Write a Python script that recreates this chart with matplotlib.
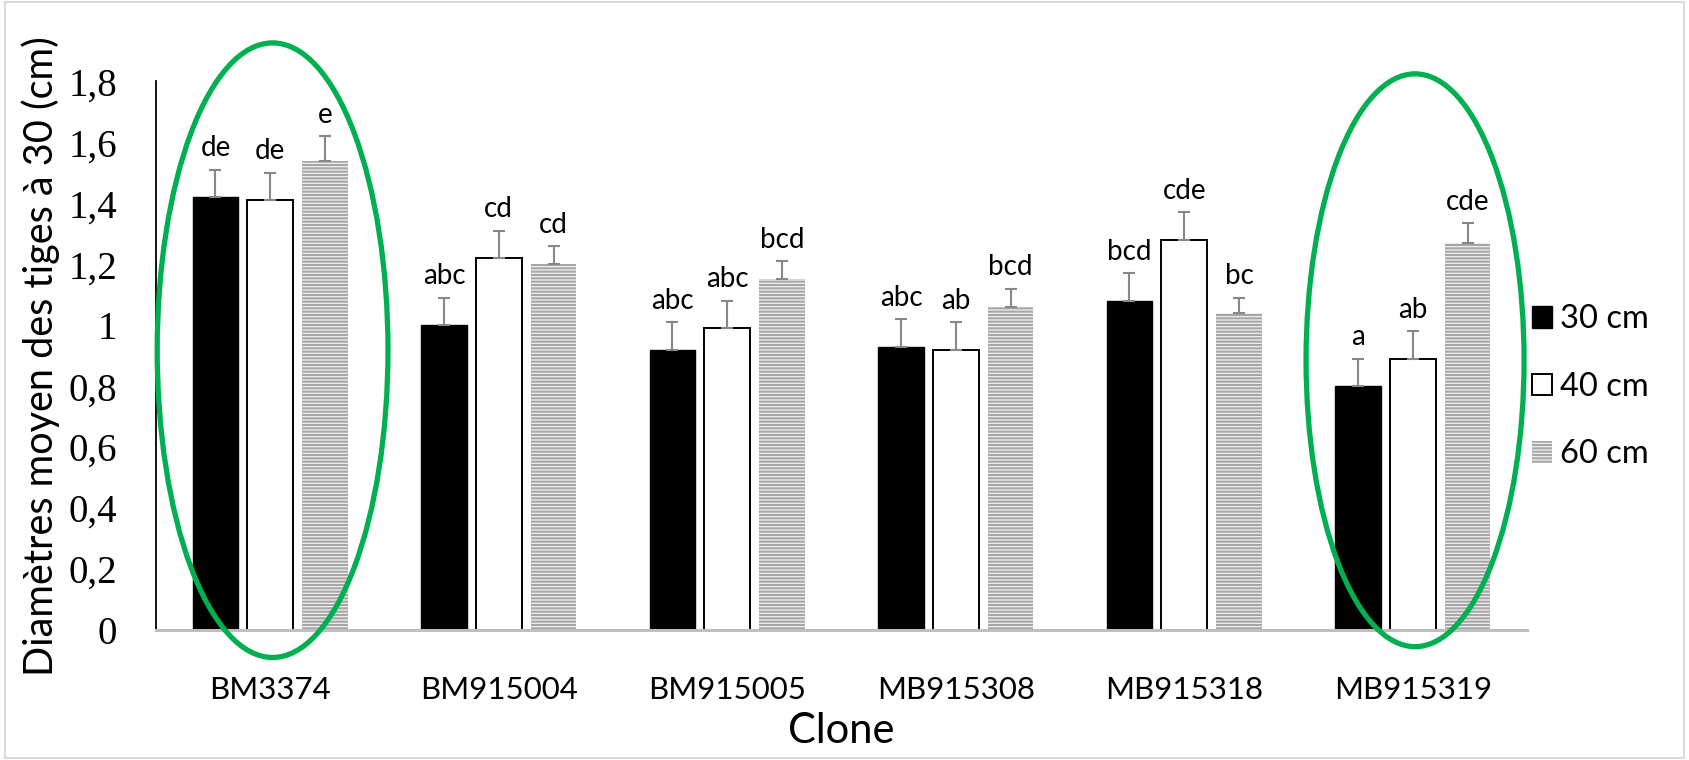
import matplotlib
matplotlib.use('Agg')
import matplotlib.pyplot as plt
import numpy as np
from matplotlib.patches import Ellipse, Patch, Rectangle

# Données
clones = ['BM3374', 'BM915004', 'BM915005', 'MB915308', 'MB915318', 'MB915319']
series_names = ['30 cm', '40 cm', '60 cm']

moy_30 = [1.42, 1.00, 0.92, 0.93, 1.08, 0.80]
moy_40 = [1.41, 1.22, 0.99, 0.92, 1.28, 0.89]
moy_60 = [1.54, 1.20, 1.15, 1.06, 1.04, 1.27]

err_30 = [0.09, 0.09, 0.09, 0.09, 0.09, 0.09]
err_40 = [0.09, 0.09, 0.09, 0.09, 0.09, 0.09]
err_60 = [0.08, 0.06, 0.06, 0.06, 0.05, 0.065]

lettres_30 = ['de', 'abc', 'abc', 'abc', 'bcd', 'a']
lettres_40 = ['de', 'cd', 'abc', 'ab', 'cde', 'ab']
lettres_60 = ['e', 'cd', 'bcd', 'bcd', 'bc', 'cde']

plt.rcParams['hatch.linewidth'] = 1.5

fig = plt.figure(figsize=(16.89, 7.6), dpi=100)
ax = fig.add_axes([0.0924, 0.171, 0.8117, 0.722])

x = np.arange(len(clones))
largeur = 0.2
decal = 0.24

styles = [
    dict(facecolor='black', edgecolor='black', linewidth=1.0),
    dict(facecolor='white', edgecolor='black', linewidth=1.4),
    dict(facecolor='#F0F0F0', edgecolor='#A6A6A6', linewidth=0, hatch='-----'),
]
moyennes = [moy_30, moy_40, moy_60]
erreurs = [err_30, err_40, err_60]
lettres = [lettres_30, lettres_40, lettres_60]

poignees = []
for i, (m, e, l, st) in enumerate(zip(moyennes, erreurs, lettres, styles)):
    pos = x + (i - 1) * decal
    ax.bar(pos, m, width=largeur, zorder=2, **st)
    ax.errorbar(pos, m, yerr=[np.zeros(len(e)), e], fmt='none', ecolor='#888888',
                elinewidth=1.5, capsize=4.3, capthick=1.5, zorder=3)
    for xi, yi, ei, txt in zip(pos, m, e, l):
        ax.annotate(txt, (xi, yi + ei), xytext=(0, 6), textcoords='offset points',
                    ha='center', va='bottom', fontsize=20, family='Lato')
    poignees.append(Patch(label=series_names[i], **st))

ax.set_xlim(-0.5, len(clones) - 0.5)
ax.set_ylim(0, 1.8)
ticks = np.arange(0, 1.81, 0.2)
ax.set_yticks(ticks)
ax.set_yticklabels([('%g' % round(v, 1)).replace('.', ',') for v in ticks],
                   family='Liberation Serif', fontsize=28)
ax.set_xticks(x)
ax.set_xticklabels(clones, family='Lato', fontsize=22.5)
ax.tick_params(axis='y', length=0, pad=28)
ax.tick_params(axis='x', length=0, pad=33)

ax.set_xlabel('Clone', family='Lato', fontsize=30, labelpad=6)
ax.set_ylabel('Diamètres moyen des tiges à 30 (cm)', family='Lato', fontsize=28.5, labelpad=6)

for s in ['top', 'right']:
    ax.spines[s].set_visible(False)
ax.spines['left'].set_color('black')
ax.spines['left'].set_linewidth(1.3)
ax.spines['bottom'].set_color('#BFBFBF')
ax.spines['bottom'].set_linewidth(2.2)

# légende
ax.legend(handles=poignees, loc='center left', bbox_to_anchor=(0.994, 0.443), frameon=False,
          prop={'family': 'Lato', 'size': 23.5}, handlelength=0.62, handleheight=0.62,
          handletextpad=0.25, labelspacing=1.15, borderaxespad=0.0)

# ellipses vertes
ax.add_patch(Ellipse((0.01, 0.918), 1.01, 2.016, fill=False, edgecolor='#00B050',
                     linewidth=3.8, clip_on=False, zorder=5))
ax.add_patch(Ellipse((5.01, 0.885), 0.954, 1.879, fill=False, edgecolor='#00B050',
                     linewidth=3.8, clip_on=False, zorder=5))

# cadre du graphique
fig.patches.append(Rectangle((0.003, 0.003), 0.994, 0.994, transform=fig.transFigure,
                             fill=False, edgecolor='#D9D9D9', linewidth=1.5))

fig.savefig('out.png', dpi=100)
